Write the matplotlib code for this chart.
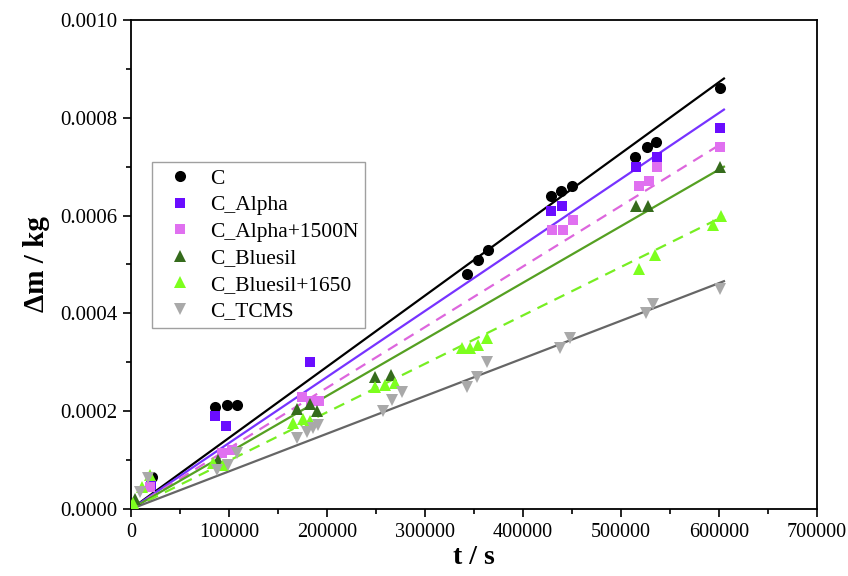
import matplotlib
matplotlib.use("Agg")
import matplotlib.pyplot as plt
from matplotlib.ticker import MultipleLocator, FormatStrFormatter

# data (t in s, dm in kg)
t_c = [21000, 86000, 98000, 108000, 343000, 354000, 364000, 429000, 439000, 450000,
       514000, 526000, 536000, 601000]
m_c = [0.000065, 0.000208, 0.000212, 0.000212, 0.00048, 0.00051, 0.00053, 0.00064, 0.00065, 0.00066,
       0.00072, 0.00074, 0.00075, 0.00086]

t_alpha = [20000, 86000, 97000, 183000, 429000, 440000, 515000, 537000, 601000]
m_alpha = [0.00005, 0.00019, 0.00017, 0.0003, 0.00061, 0.00062, 0.0007, 0.00072, 0.00078]

t_alpha_n = [19000, 93000, 103000, 174000, 184000, 192000, 430000, 441000, 451000,
             518000, 529000, 537000, 601000]
m_alpha_n = [0.000045, 0.000115, 0.00012, 0.00023, 0.00022, 0.00022, 0.00057, 0.00057, 0.00059,
             0.00066, 0.00067, 0.0007, 0.00074]

t_blue = [4000, 89000, 169000, 183000, 190000, 249000, 265000, 515000, 528000, 601000]
m_blue = [0.00002, 0.0001, 0.000205, 0.000215, 0.0002, 0.00027, 0.000275, 0.00062, 0.00062, 0.0007]

t_blue_n = [2000, 11000, 19000, 84000, 94000, 165000, 175000, 183000, 249000, 259000, 269000,
            338000, 346000, 354000, 363000, 518000, 535000, 594000, 602000]
m_blue_n = [0.000012, 0.000045, 0.00007, 0.000095, 0.00009, 0.000175, 0.000185, 0.00018, 0.00025,
            0.000254, 0.000258, 0.00033, 0.00033, 0.000335, 0.00035, 0.00049, 0.00052, 0.00058, 0.0006]

t_tcms = [9000, 17000, 88000, 99000, 108000, 169000, 180000, 186000, 191000, 257000, 266000, 276000,
          343000, 353000, 363000, 438000, 448000, 525000, 533000, 601000]
m_tcms = [0.000035, 0.000063, 0.00008, 0.00009, 0.000115, 0.000145, 0.000158, 0.000165, 0.000172,
          0.0002, 0.000223, 0.00024, 0.00025, 0.00027, 0.0003, 0.00033, 0.00035, 0.0004, 0.00042, 0.00045]

# slopes of the fitted lines (kg/s), lines run from 0 to t_end
slopes = [1.455e-9, 1.35e-9, 1.24e-9, 1.157e-9, 0.99e-9, 0.77e-9]
t_end = 605000

labels = ["C", "C_Alpha", "C_Alpha+1500N", "C_Bluesil", "C_Bluesil+1650", "C_TCMS"]
series = [(t_c, m_c), (t_alpha, m_alpha), (t_alpha_n, m_alpha_n),
          (t_blue, m_blue), (t_blue_n, m_blue_n), (t_tcms, m_tcms)]
markers = ["o", "s", "s", "^", "^", "v"]
mcolors = ["#000000", "#6a0dff", "#e070f0", "#356b1c", "#7dff1e", "#a9a9a9"]
lcolors = ["#000000", "#7733ff", "#dd66dd", "#55a022", "#77ee22", "#666666"]
lstyles = ["-", "-", "--", "-", "--", "-"]
msizes = [8, 7, 7, 8, 8, 8]

plt.rcParams['font.family'] = ['Liberation Serif', 'DejaVu Serif']

fig = plt.figure(figsize=(8.48, 5.76), dpi=100)
ax = fig.add_axes([0.1545, 0.1163, 0.809, 0.849])

for i in range(len(series)):
    ax.plot([0, t_end], [0, slopes[i] * t_end], color=lcolors[i], ls=lstyles[i],
            lw=1.6, dashes=(5, 3.5) if lstyles[i] == "--" else (None, None), zorder=2)
for i in range(len(series)):
    t, m = series[i]
    ax.plot(t, m, ls="none", marker=markers[i], color=mcolors[i], ms=msizes[i],
            mew=0, label=labels[i], zorder=3)

ax.set_xlim(0, 700000)
ax.set_ylim(0, 0.001)
ax.xaxis.set_major_locator(MultipleLocator(100000))
ax.xaxis.set_minor_locator(MultipleLocator(50000))
ax.yaxis.set_major_locator(MultipleLocator(0.0002))
ax.yaxis.set_minor_locator(MultipleLocator(0.0001))
ax.yaxis.set_major_formatter(FormatStrFormatter('%.4f'))
ax.tick_params(which='major', direction='out', length=6, width=1.2)
ax.tick_params(which='minor', direction='out', length=3.5, width=1.2)
ax.tick_params(axis='x', labelsize=14.5, pad=4)
ax.tick_params(axis='y', labelsize=15, pad=4)
for s in ax.spines.values():
    s.set_linewidth(1.3)

ax.set_xlabel("t / s", fontsize=20, fontweight='bold', labelpad=2)
ax.set_ylabel("Δm / kg", fontsize=21, fontweight='bold', labelpad=7)

leg = ax.legend(loc='upper left', bbox_to_anchor=(0.0306, 0.7096), borderaxespad=0,
                fontsize=15.5, frameon=True, fancybox=False, edgecolor='#888888',
                borderpad=0.3, labelspacing=0.3, handletextpad=0.4, handlelength=2.0)
leg.get_frame().set_linewidth(1.0)

fig.savefig("out.png", dpi=100)
